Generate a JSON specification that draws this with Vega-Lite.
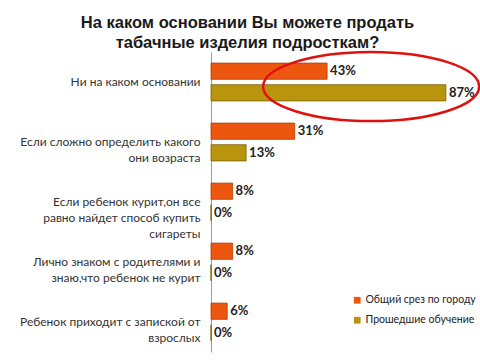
{
  "$schema": "https://vega.github.io/schema/vega-lite/v6.json",
  "autosize": "none",
  "width": 269,
  "height": 300,
  "padding": {"left": 211, "top": 52, "right": 0, "bottom": 8},
  "background": "white",
  "title": {
    "text": ["На каком основании Вы можете продать", "табачные изделия подросткам?"],
    "font": "Liberation Sans",
    "fontSize": 16.5,
    "fontWeight": "bold",
    "color": "#1a1a1a",
    "anchor": "middle",
    "dx": -98,
    "offset": -5,
    "lineHeight": 20
  },
  "config": {"view": {"stroke": null}},
  "datasets": {
    "bars": [
      {"category": "Ни на каком основании", "series": "Общий срез по городу", "value": 0.43},
      {"category": "Ни на каком основании", "series": "Прошедшие обучение", "value": 0.87},
      {"category": "Если сложно определить какого|они возраста", "series": "Общий срез по городу", "value": 0.31},
      {"category": "Если сложно определить какого|они возраста", "series": "Прошедшие обучение", "value": 0.13},
      {"category": "Если ребенок  курит,он все|равно найдет способ купить|сигареты", "series": "Общий срез по городу", "value": 0.08},
      {"category": "Если ребенок  курит,он все|равно найдет способ купить|сигареты", "series": "Прошедшие обучение", "value": 0.0},
      {"category": "Лично знаком с родителями и|знаю,что ребенок  не курит", "series": "Общий срез по городу", "value": 0.08},
      {"category": "Лично знаком с родителями и|знаю,что ребенок  не курит", "series": "Прошедшие обучение", "value": 0.0},
      {"category": "Ребенок приходит с запиской от|взрослых", "series": "Общий срез по городу", "value": 0.06},
      {"category": "Ребенок приходит с запиской от|взрослых", "series": "Прошедшие обучение", "value": 0.0}
    ],
    "highlight": [
      {"category": "Ни на каком основании", "value": 0.593}
    ]
  },
  "layer": [
    {
      "data": {"name": "bars"},
      "mark": {"type": "bar", "strokeWidth": 0.8},
      "encoding": {
        "y": {
          "field": "category", "type": "nominal", "sort": null,
          "scale": {"paddingInner": 0.37, "paddingOuter": 0.185},
          "axis": {
            "title": null,
            "ticks": false,
            "domainColor": "#9a9a9a",
            "domainWidth": 1,
            "labelExpr": "split(datum.label, '|')",
            "labelFont": "Lato",
            "labelFontSize": 12,
            "labelColor": "#333333",
            "labelPadding": 11,
            "labelLimit": 0,
            "labelLineHeight": 16
          }
        },
        "yOffset": {
          "field": "series", "type": "nominal", "sort": null,
          "scale": {"paddingInner": 0.25, "paddingOuter": 0}
        },
        "x": {
          "field": "value", "type": "quantitative",
          "scale": {"domain": [0, 0.9963], "nice": false},
          "axis": null
        },
        "color": {
          "field": "series", "type": "nominal", "sort": null,
          "scale": {"range": ["#EC560E", "#B8950C"]},
          "legend": {
            "title": null,
            "orient": "none",
            "legendX": 141,
            "legendY": 243,
            "symbolType": "square",
            "symbolSize": 45,
            "symbolStrokeWidth": 0,
            "labelFont": "Lato",
            "labelFontSize": 10.5,
            "labelColor": "#222222",
            "rowPadding": 9,
            "labelOffset": 3
          }
        },
        "stroke": {
          "field": "series", "type": "nominal", "sort": null,
          "scale": {"range": ["#B03E05", "#7A6200"]},
          "legend": null
        }
      }
    },
    {
      "data": {"name": "bars"},
      "mark": {"type": "text", "align": "left", "baseline": "middle", "dx": 3, "font": "Lato", "fontSize": 13, "fontWeight": "bold", "color": "#222222"},
      "encoding": {
        "y": {"field": "category", "type": "nominal", "sort": null},
        "yOffset": {"field": "series", "type": "nominal", "sort": null},
        "x": {"field": "value", "type": "quantitative"},
        "text": {"field": "value", "type": "quantitative", "format": ".0%"}
      }
    },
    {
      "data": {"name": "highlight"},
      "mark": {
        "type": "point",
        "filled": false,
        "shape": "M -1 0.042 A 1 0.32 0 1 0 1 0.042 A 1 0.32 0 1 0 -1 0.042",
        "size": 46656,
        "stroke": "#E01010",
        "strokeWidth": 2.5,
        "opacity": 1
      },
      "encoding": {
        "y": {"field": "category", "type": "nominal", "sort": null},
        "x": {"field": "value", "type": "quantitative"}
      }
    }
  ]
}
